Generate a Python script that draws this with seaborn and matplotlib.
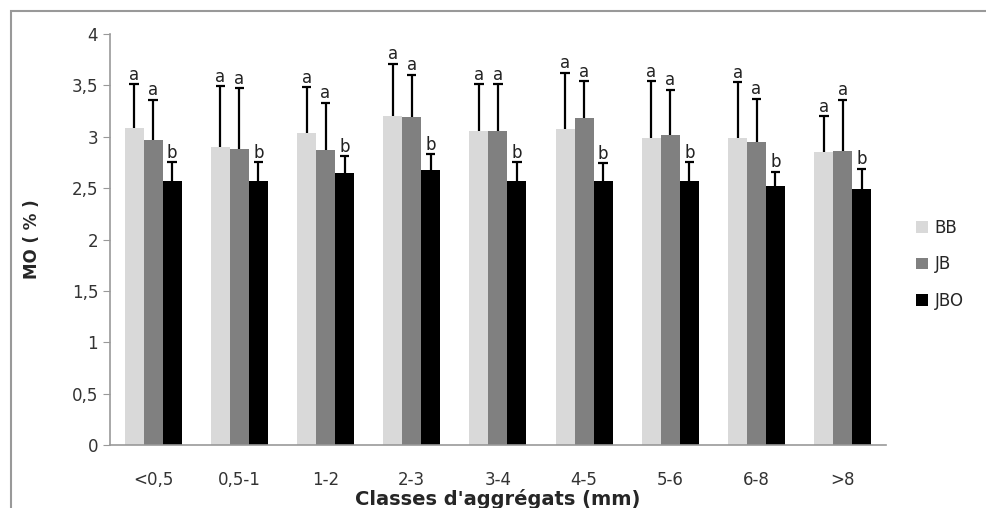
import pandas as pd
import numpy as np
import matplotlib
matplotlib.use("Agg")
import matplotlib.pyplot as plt
import seaborn as sns
from matplotlib.patches import Rectangle

# Data
classes = ["<0,5", "0,5-1", "1-2", "2-3", "3-4", "4-5", "5-6", "6-8", ">8"]
series = ["BB", "JB", "JBO"]
bb = [3.09, 2.90, 3.04, 3.20, 3.06, 3.08, 2.99, 2.99, 2.85]
jb = [2.97, 2.88, 2.87, 3.19, 3.06, 3.18, 3.02, 2.95, 2.86]
jbo = [2.57, 2.57, 2.65, 2.68, 2.57, 2.57, 2.57, 2.52, 2.49]
# upper end of each error bar
bb_top = [3.51, 3.49, 3.48, 3.71, 3.51, 3.62, 3.54, 3.53, 3.20]
jb_top = [3.36, 3.47, 3.33, 3.60, 3.51, 3.54, 3.46, 3.37, 3.36]
jbo_top = [2.75, 2.75, 2.81, 2.83, 2.75, 2.74, 2.75, 2.66, 2.69]
letters = ["a", "a", "b"]
yticks = [0, 0.5, 1, 1.5, 2, 2.5, 3, 3.5, 4]
ytick_labels = ["0", "0,5", "1", "1,5", "2", "2,5", "3", "3,5", "4"]
colors = ["#d9d9d9", "#808080", "#000000"]

# long-form table for seaborn
values = {"BB": bb, "JB": jb, "JBO": jbo}
tops = {"BB": bb_top, "JB": jb_top, "JBO": jbo_top}
rows = []
for s in series:
    for c, v, t in zip(classes, values[s], tops[s]):
        rows.append({"Classe": c, "Serie": s, "MO": v, "top": t})
df = pd.DataFrame(rows)

sns.set_style("white")
plt.rcParams['font.family'] = ['DejaVu Sans']

fig = plt.figure(figsize=(9.87, 5.08), dpi=100)
ax = fig.add_axes([0.1115, 0.124, 0.786, 0.809])

sns.barplot(data=df, x="Classe", y="MO", hue="Serie", order=classes,
            hue_order=series, palette=colors, width=0.66, errorbar=None,
            saturation=1, linewidth=0, ax=ax)

# one-sided error bars (upper only) and significance letters
cap = 0.055
for i, s in enumerate(series):
    cont = ax.containers[i]
    for bar, t in zip(cont, tops[s]):
        x = bar.get_x() + bar.get_width() / 2
        h = bar.get_height()
        ax.vlines(x, h, t, colors="black", linewidth=1.6, zorder=3)
        ax.hlines(t, x - cap, x + cap, colors="black", linewidth=1.6, zorder=3)
        ax.annotate(letters[i], (x, t), xytext=(0, 0.5),
                    textcoords="offset points", ha="center", va="bottom",
                    fontsize=12, color="#222222")

ax.set_ylim(0, 4)
ax.set_xlim(-0.5, len(classes) - 0.5)
ax.set_yticks(yticks)
ax.set_yticklabels(ytick_labels, fontsize=12, color="#333333")
ax.tick_params(axis="x", length=0, labelsize=12, labelcolor="#333333", pad=19)
ax.set_xticks(np.arange(-0.5, len(classes)), minor=True)
ax.tick_params(axis="x", which="minor", length=5, color="#999999", direction="out")
ax.tick_params(axis="y", length=5, color="#999999", direction="out", left=True)

for side in ["top", "right"]:
    ax.spines[side].set_visible(False)
for side in ["left", "bottom"]:
    ax.spines[side].set_color("#999999")
    ax.spines[side].set_linewidth(1.2)

ax.set_ylabel("MO ( % )", fontsize=12, fontweight="bold", labelpad=22)
ax.set_xlabel("Classes d'aggrégats (mm)", fontsize=14, fontweight="bold", labelpad=0)

leg = ax.legend(loc="center left", bbox_to_anchor=(1.02, 0.44), frameon=False,
                fontsize=12, handlelength=0.7, handleheight=0.7,
                handletextpad=0.4, labelspacing=1.1)
leg.set_title(None)

# outer frame of the figure
fig.patches.append(Rectangle((11 / 987, -0.1), 1.2, 1.1 - 11 / 508,
                             transform=fig.transFigure, fill=False,
                             edgecolor="#999999", linewidth=1.5))

fig.savefig("out.png", dpi=100)
